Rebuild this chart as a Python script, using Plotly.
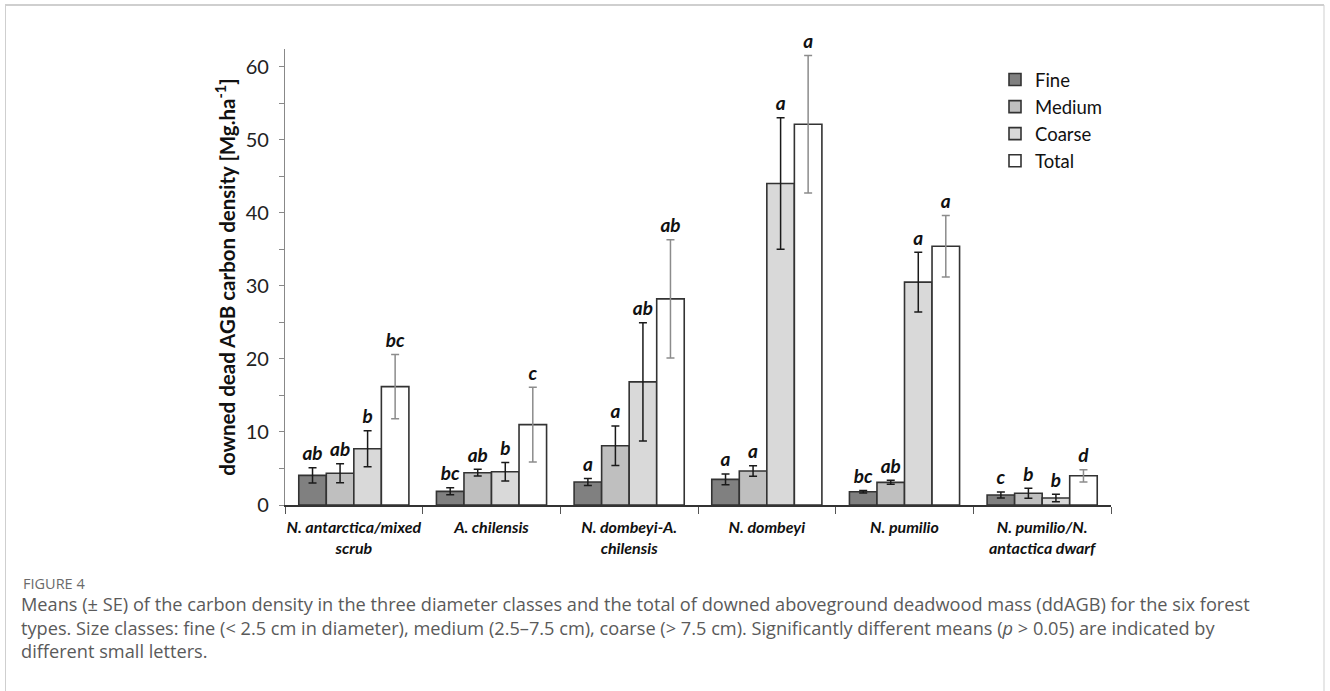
import plotly.graph_objects as go

# Forest types (x categories) and diameter size classes
forest_types = [
    "N. antarctica/mixed<br>scrub",
    "A. chilensis",
    "N. dombeyi-A.<br>chilensis",
    "N. dombeyi",
    "N. pumilio",
    "N. pumilio/N.<br>antactica dwarf",
]
size_classes = ["Fine", "Medium", "Coarse", "Total"]

# Mean carbon density [Mg/ha] and standard errors per class
fine_mean = [4.05, 1.87, 3.15, 3.5, 1.82, 1.37]
fine_se = [1.05, 0.48, 0.48, 0.73, 0.18, 0.41]
fine_letters = ["ab", "bc", "a", "a", "bc", "c"]

medium_mean = [4.35, 4.42, 8.1, 4.65, 3.1, 1.6]
medium_se = [1.3, 0.46, 2.7, 0.73, 0.27, 0.68]
medium_letters = ["ab", "ab", "a", "a", "ab", "b"]

coarse_mean = [7.7, 4.55, 16.85, 44.0, 30.5, 0.95]
coarse_se = [2.45, 1.28, 8.1, 9.0, 4.1, 0.52]
coarse_letters = ["b", "b", "ab", "a", "a", "b"]

total_mean = [16.2, 11.0, 28.2, 52.1, 35.4, 4.0]
total_se = [4.4, 5.1, 8.1, 9.4, 4.2, 0.84]
total_letters = ["bc", "c", "ab", "a", "a", "d"]

caption_label = "FIGURE 4"
caption_lines = [
    "Means (± SE) of the carbon density in the three diameter classes and the total of downed aboveground deadwood mass (ddAGB) for the six forest",
    "types. Size classes: fine (&lt; 2.5 cm in diameter), medium (2.5–7.5 cm), coarse (&gt; 7.5 cm). Significantly different means (<i>p</i> &gt; 0.05) are indicated by",
    "different small letters.",
]

means = [fine_mean, medium_mean, coarse_mean, total_mean]
ses = [fine_se, medium_se, coarse_se, total_se]
letters = [fine_letters, medium_letters, coarse_letters, total_letters]

fills = ["#808080", "#bfbfbf", "#d9d9d9", "#ffffff"]
err_colors = ["#1a1a1a", "#1a1a1a", "#1a1a1a", "#8c8c8c"]

BAR_W = 0.2
chart_font = "Lato, 'Open Sans', sans-serif"

fig = go.Figure()
for j, name in enumerate(size_classes):
    xs = [i + (j - 1.5) * BAR_W for i in range(len(forest_types))]
    fig.add_trace(go.Bar(
        x=xs, y=means[j], width=BAR_W, name=name,
        marker=dict(color=fills[j], line=dict(color="#333333", width=1.6)),
        error_y=dict(type="data", array=ses[j], color=err_colors[j],
                     thickness=1.5, width=4),
    ))
for j in range(len(size_classes)):
    xs = [i + (j - 1.5) * BAR_W for i in range(len(forest_types))]
    tops = [m + s for m, s in zip(means[j], ses[j])]
    fig.add_trace(go.Scatter(
        x=xs, y=tops, mode="markers+text", text=letters[j],
        textposition="top center",
        marker=dict(size=3, opacity=0),
        textfont=dict(family=chart_font, size=19, color="#111",
                      weight="bold", style="italic"),
        showlegend=False, hoverinfo="skip", cliponaxis=False,
    ))

W, H = 1330, 691
L, R, T, B = 285, 219, 49, 186
pw, ph = W - L - R, H - T - B


def px_x(p):
    return (p - L) / pw


def px_y(p):
    return (H - B - p) / ph


# page frame around the figure and caption
frame = "#cfcfcf"
fig.add_shape(type="line", xref="paper", yref="paper",
              x0=px_x(5), x1=px_x(1324), y0=px_y(5), y1=px_y(5),
              line=dict(color=frame, width=2))
fig.add_shape(type="line", xref="paper", yref="paper",
              x0=px_x(5.5), x1=px_x(5.5), y0=px_y(5), y1=px_y(700),
              line=dict(color=frame, width=1))
fig.add_shape(type="line", xref="paper", yref="paper",
              x0=px_x(1324), x1=px_x(1324), y0=px_y(5), y1=px_y(700),
              line=dict(color=frame, width=1))

cap_font = "'Open Sans', sans-serif"
fig.add_annotation(xref="paper", yref="paper", x=px_x(21), y=px_y(583),
                   xanchor="left", yanchor="middle", showarrow=False,
                   text=caption_label,
                   font=dict(family=cap_font, size=14.5, color="#6a6a6a"))
fig.add_annotation(
    xref="paper", yref="paper", x=px_x(20), y=px_y(591),
    xanchor="left", yanchor="top", align="left", showarrow=False,
    borderpad=0,
    text="<br>".join(caption_lines),
    font=dict(family=cap_font, size=18.2, color="#5a5a5a"),
)

fig.update_layout(
    width=W, height=H,
    margin=dict(l=L, r=R, t=T, b=B),
    paper_bgcolor="white", plot_bgcolor="white",
    barmode="overlay",
    showlegend=True,
    legend=dict(x=px_x(995), y=px_y(61), xanchor="left", yanchor="top",
                font=dict(family=chart_font, size=18.5, color="#111"),
                bgcolor="rgba(0,0,0,0)", itemwidth=30, tracegroupgap=0),
    xaxis=dict(
        range=[-0.5, 5.5], tickmode="array",
        tickvals=list(range(len(forest_types))), ticktext=forest_types,
        ticks="", showline=True, linecolor="#333333", linewidth=1.6,
        showgrid=False, zeroline=False, ticklabelstandoff=7,
        tickfont=dict(family=chart_font, size=16, color="#111",
                      weight="bold", style="italic"),
        minor=dict(ticks="outside", tick0=-0.5, dtick=1, ticklen=7,
                   tickcolor="#555", tickwidth=1.2),
    ),
    yaxis=dict(
        range=[0, 62.4], tickmode="array", tickvals=list(range(0, 61, 10)),
        ticks="outside", ticklen=5, tickcolor="#888", tickwidth=1.2,
        showline=True, linecolor="#888", linewidth=1.2,
        showgrid=False, zeroline=False, ticklabelstandoff=6,
        tickfont=dict(family=chart_font, size=20, color="#222"),
        minor=dict(ticks="outside", dtick=5, ticklen=5, tickcolor="#888",
                   tickwidth=1.2),
        title=dict(text="downed dead AGB carbon density [Mg.ha<sup>-1</sup>]",
                   standoff=4,
                   font=dict(family=chart_font, size=20.5, color="#111",
                             weight="bold")),
    ),
)

fig.write_html("out.html")
